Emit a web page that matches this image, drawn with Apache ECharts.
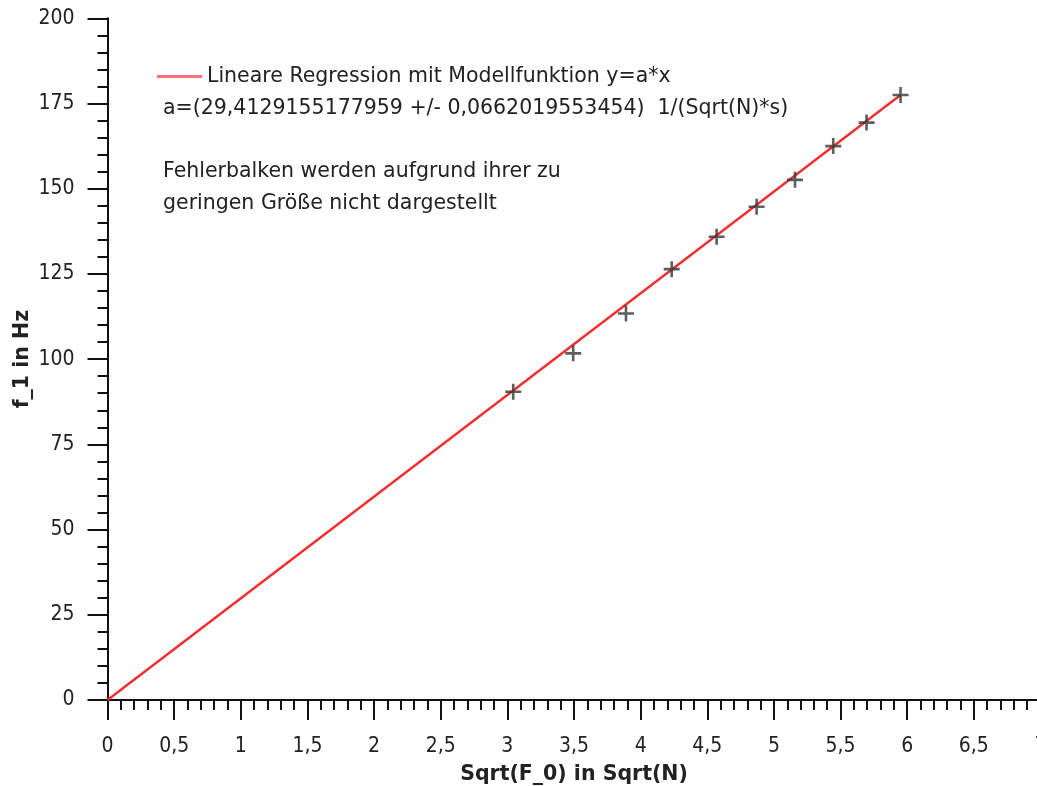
<!DOCTYPE html>
<html>
<head>
<meta charset="utf-8">
<script src="https://cdn.jsdelivr.net/npm/echarts@6/dist/echarts.min.js"></script>
<style>html,body{margin:0;padding:0;background:#fff}#c{width:1037px;height:786px}</style>
</head>
<body>
<div id="c"></div>
<script>
// Measured points
const xValues = [3.044, 3.494, 3.890, 4.233, 4.570, 4.870, 5.158, 5.445, 5.695, 5.950];
const yValues = [90.45, 101.7, 113.4, 126.4, 135.9, 144.7, 152.6, 162.5, 169.4, 177.5];
// Regression line endpoints as drawn
const lineX = [0, 5.95];
const lineY = [0, 177.5];
const legendName = 'Lineare Regression mit Modellfunktion y=a*x';
const noteLines = [
  'a=(29,4129155177959 +/- 0,0662019553454)  1/(Sqrt(N)*s)',
  'Fehlerbalken werden aufgrund ihrer zu',
  'geringen Größe nicht dargestellt'
];
const xTitle = 'Sqrt(F_0) in Sqrt(N)';
const yTitle = 'f_1 in Hz';

const FONT_TICK = '"DejaVu Sans Condensed","DejaVu Sans",sans-serif';
const FONT = '"DejaVu Sans",sans-serif';
const TXT = '#222';
const chart = echarts.init(document.getElementById('c'));
const plus = 'path://M-1.3,-8 L1.3,-8 L1.3,-1.3 L8,-1.3 L8,1.3 L1.3,1.3 L1.3,8 L-1.3,8 L-1.3,1.3 L-8,1.3 L-8,-1.3 L-1.3,-1.3 Z';
const axisCommon = {
  type: 'value',
  axisLine: {show: true, lineStyle: {color: '#111', width: 2}},
  axisTick: {show: true, inside: false, length: 20, lineStyle: {color: '#111', width: 2}},
  minorTick: {show: true, splitNumber: 5, length: 10, lineStyle: {color: '#111', width: 2}},
  splitLine: {show: false},
  axisLabel: {fontFamily: FONT_TICK, fontSize: 21, color: TXT, margin: 33,
    formatter: v => String(v).replace('.', ',')},
  nameTextStyle: {fontFamily: FONT, fontSize: 20.5, fontWeight: 'bold', color: TXT}
};
chart.setOption({
  animation: false,
  backgroundColor: '#fff',
  grid: {left: 107.5, top: 18.3, right: -3.5, bottom: 86, containLabel: false, outerBoundsMode: 'none'},
  xAxis: Object.assign({}, axisCommon, {
    min: 0, max: 7, interval: 0.5,
    name: xTitle, nameLocation: 'middle', nameGap: 64,
    axisLabel: Object.assign({}, axisCommon.axisLabel, {margin: 36})
  }),
  yAxis: Object.assign({}, axisCommon, {
    min: 0, max: 200, interval: 25,
    name: yTitle, nameLocation: 'middle', nameGap: 74, nameMoveOverlap: false
  }),
  legend: {
    data: [legendName], left: 152, top: 61, itemWidth: 45, itemHeight: 3, itemGap: 22,
    textStyle: {fontFamily: FONT, fontSize: 20.5, color: TXT}, icon: 'rect'
  },
  graphic: noteLines.map((t, i) => ({
    type: 'text', left: 163, top: [98, 161, 193][i],
    style: {text: t, fontFamily: FONT, fontSize: 20.5, fill: TXT}
  })),
  series: [
    {
      name: legendName, type: 'line', symbol: 'none',
      data: lineX.map((x, i) => [x, lineY[i]]),
      lineStyle: {color: '#f03030', width: 2.5},
      itemStyle: {color: '#ff7373'}
    },
    {
      name: 'Messwerte', type: 'scatter', symbol: plus, symbolSize: 16,
      data: xValues.map((x, i) => [x, yValues[i]]),
      itemStyle: {color: '#363636'}, z: 5
    }
  ]
});
</script>
</body>
</html>
